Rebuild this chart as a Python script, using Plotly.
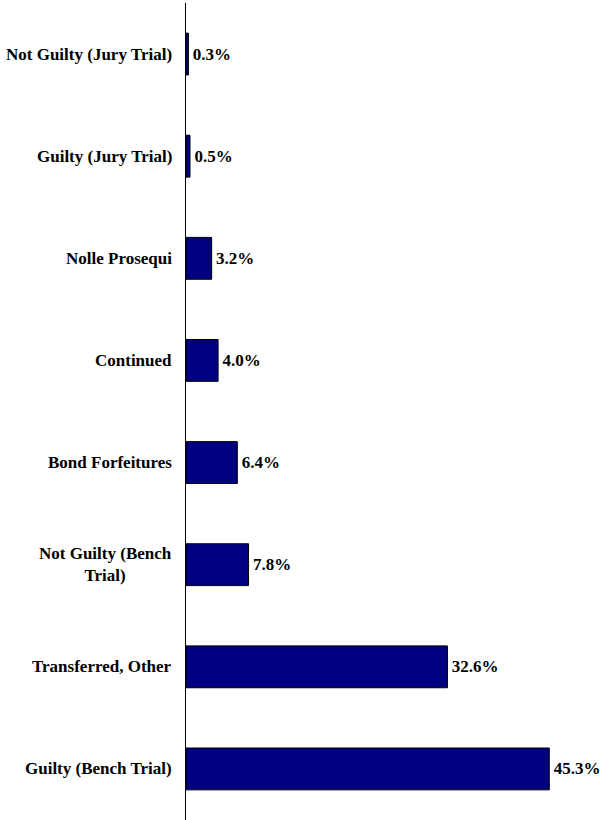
import plotly.graph_objects as go

categories = [
    "Not Guilty (Jury Trial)",
    "Guilty (Jury Trial)",
    "Nolle Prosequi",
    "Continued",
    "Bond Forfeitures",
    "Not Guilty (Bench<br>Trial)",
    "Transferred, Other",
    "Guilty (Bench Trial)",
]
values = [0.3, 0.5, 3.2, 4.0, 6.4, 7.8, 32.6, 45.3]

FONT = "Liberation Serif"
FS = 17

fig = go.Figure(
    go.Bar(
        y=list(range(len(categories))),
        x=values,
        orientation="h",
        marker=dict(color="#000080", line=dict(color="#000000", width=1)),
        text=[f"<b>\u200a{v:.1f}%</b>" for v in values],
        textposition="outside",
        constraintext="none",
        cliponaxis=False,
        textfont=dict(family=FONT, size=FS, color="#000000"),
        hoverinfo="skip",
    )
)

for i, c in enumerate(categories):
    fig.add_annotation(
        x=0, xref="paper", y=i, yref="y",
        text=f"<b>{c}</b>", showarrow=False,
        xanchor="right", yanchor="middle", align="center",
        xshift=-12,
        font=dict(family=FONT, size=FS, color="#000000"),
    )

fig.update_layout(
    width=605, height=820,
    margin=dict(l=186, r=2, t=3, b=0),
    paper_bgcolor="white", plot_bgcolor="white",
    bargap=0.59,
    showlegend=False,
    font=dict(family=FONT),
)
fig.update_xaxes(range=[0, 52], visible=False, showgrid=False, zeroline=False)
fig.update_yaxes(
    range=[-0.5, len(categories) - 0.5], autorange=False,
    showticklabels=False, showgrid=False, zeroline=False,
    showline=True, linecolor="#000000", linewidth=1.3,
    ticks="",
)
fig.update_yaxes(autorange="reversed")

fig.write_html(
    "out.html",
    config={"displayModeBar": False},
    post_script="document.body.style.margin='0';document.body.style.overflow='hidden';",
)
